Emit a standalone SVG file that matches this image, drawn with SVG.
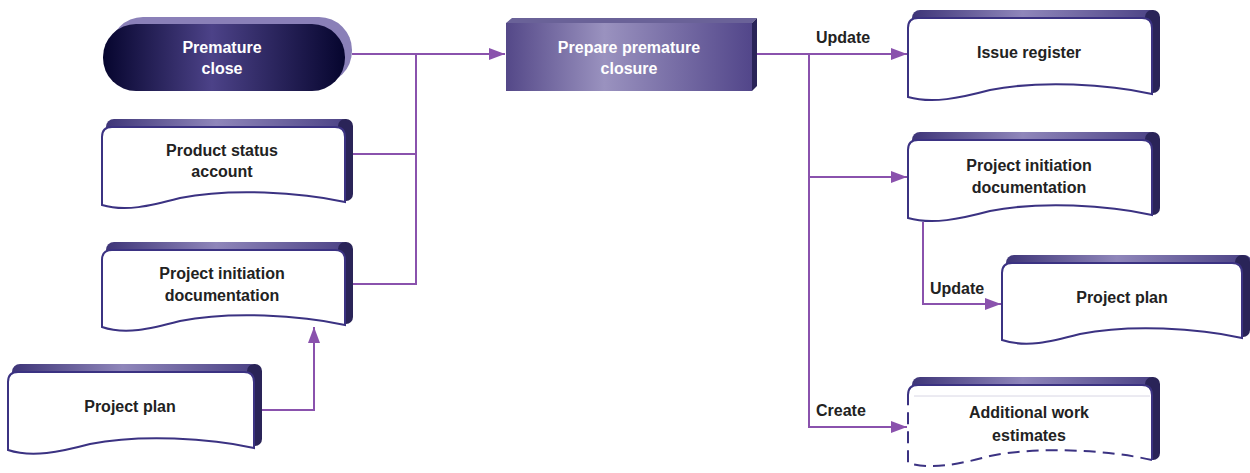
<svg xmlns="http://www.w3.org/2000/svg" width="1250" height="473" viewBox="0 0 1250 473">
<style>
text{font-family:"Liberation Sans",Arial,sans-serif;font-weight:bold;font-size:16px;text-anchor:middle;fill:#222}
.w{fill:#fff}
.lbl{text-anchor:start}
.face{fill:#fff;stroke:#3b3282;stroke-width:2}
.edge{fill:none;stroke:#3b3282;stroke-width:2}
.dash{stroke-dasharray:12,7}
.side{fill:#2a2458}
.top{fill:url(#topg)}
.con{fill:none;stroke:#8a52ad;stroke-width:2}
</style>
<defs>
<linearGradient id="topg" x1="0" x2="1" y1="0" y2="0">
<stop offset="0" stop-color="#3e3578"/><stop offset="0.45" stop-color="#8f86ba"/><stop offset="1" stop-color="#4a4184"/>
</linearGradient>
<linearGradient id="pill" x1="0" x2="1" y1="0" y2="0">
<stop offset="0" stop-color="#06052e"/><stop offset="0.45" stop-color="#4c4288"/><stop offset="1" stop-color="#06052e"/>
</linearGradient>
<linearGradient id="box" x1="0" x2="1" y1="0" y2="0">
<stop offset="0" stop-color="#544888"/><stop offset="0.4" stop-color="#9a92bf"/><stop offset="1" stop-color="#52468a"/>
</linearGradient>
<marker id="arr" markerWidth="16" markerHeight="12" refX="16" refY="6" orient="auto" markerUnits="userSpaceOnUse">
<path d="M0,0 L16,6 L0,12 z" fill="#8a52ad"/>
</marker>
</defs>

<g id="connectors">
<path class="con" d="M352,54 H505" marker-end="url(#arr)"/>
<path class="con" d="M353,154 H416"/>
<path class="con" d="M353,284 H416 V54"/>
<path class="con" d="M262,410 H314 V327" marker-end="url(#arr)"/>
<path class="con" d="M757,54 H907" marker-end="url(#arr)"/>
<path class="con" d="M809,54 V427 H907" marker-end="url(#arr)"/>
<path class="con" d="M809,177 H907" marker-end="url(#arr)"/>
<path class="con" d="M923,222 V304 H1001" marker-end="url(#arr)"/>
<text class="lbl" x="816" y="43">Update</text>
<text class="lbl" x="816" y="416">Create</text>
<text class="lbl" x="930" y="294">Update</text>
</g>

<g id="premature-close">
<rect x="110" y="17" width="242" height="67" rx="33" fill="#8a80b8"/>
<rect x="103" y="24" width="242" height="67" rx="33" fill="url(#pill)"/>
<text class="w" x="222" y="53">Premature</text>
<text class="w" x="222" y="74">close</text>
</g>

<g id="prepare-premature-closure">
<polygon points="506,23 512,18 757,18 752,23" fill="#6a6298"/>
<polygon points="752,23 757,18 757,86 752,91" class="side"/>
<rect x="506" y="23" width="246" height="68" fill="url(#box)"/>
<text class="w" x="629" y="53">Prepare premature</text>
<text class="w" x="629" y="74">closure</text>
</g>

<g id="product-status-account">
<rect x="106" y="119" width="245" height="16" rx="8" class="top"/>
<rect x="338" y="119" width="15" height="82" rx="7" class="side"/>
<path class="face" d="M102,205 V137 Q102,127 112,127 H335 Q345,127 345,137 V202 C300,192 230,188 180,198 C150,206 125,212 102,205 Z"/>
<text x="222" y="156">Product status</text>
<text x="222" y="177">account</text>
</g>

<g id="pid-left">
<rect x="106" y="242" width="245" height="16" rx="8" class="top"/>
<rect x="338" y="242" width="15" height="82" rx="7" class="side"/>
<path class="face" d="M102,327 V260 Q102,250 112,250 H335 Q345,250 345,260 V325 C300,315 230,311 180,321 C150,329 125,335 102,327 Z"/>
<text x="222" y="279">Project initiation</text>
<text x="222" y="301">documentation</text>
</g>

<g id="project-plan-left">
<rect x="12" y="364" width="246" height="16" rx="8" class="top"/>
<rect x="247" y="364" width="15" height="82" rx="7" class="side"/>
<path class="face" d="M8,450 V382 Q8,372 18,372 H244 Q254,372 254,382 V448 C210,438 140,434 90,444 C60,452 32,458 8,450 Z"/>
<text x="130" y="412">Project plan</text>
</g>

<g id="issue-register">
<rect x="912" y="10" width="246" height="16" rx="8" class="top"/>
<rect x="1145" y="10" width="15" height="83" rx="7" class="side"/>
<path class="face" d="M908,97 V28 Q908,18 918,18 H1142 Q1152,18 1152,28 V94 C1108,84 1040,80 990,90 C960,98 932,104 908,97 Z"/>
<text x="1029" y="58">Issue register</text>
</g>

<g id="pid-right">
<rect x="912" y="132" width="246" height="16" rx="8" class="top"/>
<rect x="1145" y="132" width="15" height="83" rx="7" class="side"/>
<path class="face" d="M908,218 V150 Q908,140 918,140 H1142 Q1152,140 1152,150 V215 C1108,205 1040,201 990,211 C960,219 932,225 908,218 Z"/>
<text x="1029" y="171">Project initiation</text>
<text x="1029" y="193">documentation</text>
</g>

<g id="project-plan-right">
<rect x="1006" y="255" width="246" height="16" rx="8" class="top"/>
<rect x="1235" y="255" width="15" height="82" rx="7" class="side"/>
<path class="face" d="M1002,340 V273 Q1002,263 1012,263 H1232 Q1242,263 1242,273 V338 C1198,328 1130,324 1080,334 C1050,342 1026,348 1002,340 Z"/>
<text x="1122" y="303">Project plan</text>
</g>

<g id="additional-work-estimates">
<rect x="912" y="377" width="246" height="16" rx="8" class="top"/>
<rect x="1145" y="377" width="15" height="83" rx="7" class="side"/>
<path fill="#fff" d="M918,385 H1142 Q1152,385 1152,395 V460 C1108,450 1040,446 990,456 C960,464 932,470 908,463 V395 Q908,385 918,385 Z"/>
<path class="edge" d="M908,398 V395 Q908,385 918,385 H1142 Q1152,385 1152,395 V460"/>
<path class="edge dash" d="M1152,460 C1108,450 1040,446 990,456 C960,464 932,470 908,463 V398"/>
<path d="M914,396 H1150" stroke="#d8d6e4" stroke-width="1"/>
<text x="1029" y="418">Additional work</text>
<text x="1029" y="441">estimates</text>
</g>
</svg>
